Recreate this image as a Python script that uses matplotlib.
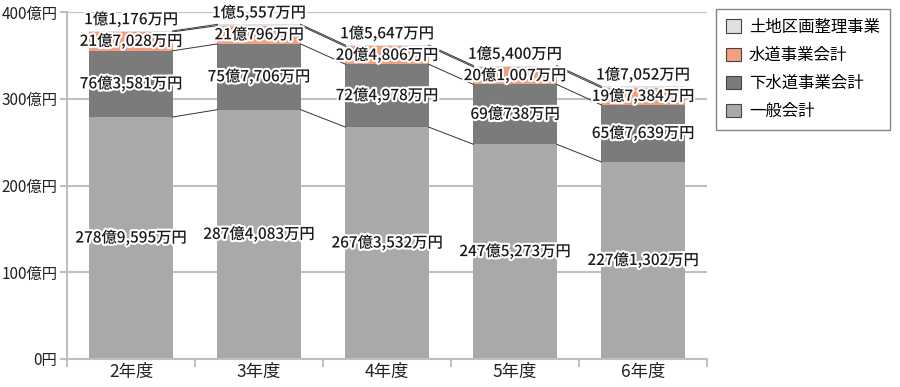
import matplotlib
matplotlib.use("Agg")
import matplotlib.pyplot as plt
import matplotlib.patheffects as pe
from matplotlib.patches import Patch
import numpy as np

plt.rcParams['font.family'] = ['Noto Sans CJK JP', 'DejaVu Sans']

years = ["2年度", "3年度", "4年度", "5年度", "6年度"]
series_names = ["一般会計", "下水道事業会計", "水道事業会計", "土地区画整理事業"]
ippan = [278.9595, 287.4083, 267.3532, 247.5273, 227.1302]
gesui = [76.3581, 75.7706, 72.4978, 69.0738, 65.7639]
suido = [21.7028, 21.0796, 20.4806, 20.1007, 19.7384]
tochi = [1.1176, 1.5557, 1.5647, 1.5400, 1.7052]
labels_ippan = ["278億9,595万円", "287億4,083万円", "267億3,532万円", "247億5,273万円", "227億1,302万円"]
labels_gesui = ["76億3,581万円", "75億7,706万円", "72億4,978万円", "69億738万円", "65億7,639万円"]
labels_suido = ["21億7,028万円", "21億796万円", "20億4,806万円", "20億1,007万円", "19億7,384万円"]
labels_tochi = ["1億1,176万円", "1億5,557万円", "1億5,647万円", "1億5,400万円", "1億7,052万円"]
yticks = [0, 100, 200, 300, 400]
ytick_labels = ["0円", "100億円", "200億円", "300億円", "400億円"]

colors = ["#a9a9a9", "#7b7b7b", "#f4a07e", "#e0e0e0"]
data = [ippan, gesui, suido, tochi]
lbls = [labels_ippan, labels_gesui, labels_suido, labels_tochi]

fig = plt.figure(figsize=(9, 3.87), dpi=100)
ax = fig.add_axes([67/900, 28/387, 640/900, 347/387])

x = np.arange(len(years))
w = 0.65
bottom = np.zeros(len(years))
tops = []
for vals, c in zip(data, colors):
    v = np.array(vals)
    ax.bar(x, v, w, bottom=bottom, color=c, edgecolor='none', zorder=2)
    bottom = bottom + v
    tops.append(bottom.copy())

# connector lines
for t in tops:
    for i in range(len(years) - 1):
        ax.plot([x[i] + w/2, x[i+1] - w/2], [t[i], t[i+1]], color="#333333", lw=0.7, zorder=3)

stroke = [pe.withStroke(linewidth=3, foreground='white')]
fs = 11
prev = np.zeros(len(years))
for k, (vals, lab) in enumerate(zip(data, lbls)):
    v = np.array(vals)
    for i in range(len(years)):
        if k == 3:
            yy = prev[i] + v[i] + 13
        else:
            yy = prev[i] + v[i] / 2
        ax.text(x[i], yy, lab[i], ha='center', va='center', fontsize=fs, fontweight='medium',
                color='#1a1a1a', path_effects=stroke, zorder=5)
    prev = prev + v

ax.set_xlim(-0.5, len(years) - 0.5)
ax.set_ylim(0, 400)
ax.set_yticks(yticks)
ax.set_yticklabels(ytick_labels, fontsize=11, color='#222222')
ax.set_xticks(x)
ax.set_xticklabels(years, fontsize=12.5, color='#222222')
ax.tick_params(axis='x', length=0, pad=3)
ax.set_xticks(np.arange(-0.5, len(years), 1.0), minor=True)
ax.tick_params(axis='x', which='minor', length=6, color='#bfbfbf', width=1.5)
ax.tick_params(axis='y', length=5, color='#bfbfbf', width=1.5, pad=2)
ax.yaxis.grid(True, color='#c0c0c0', lw=1.5, zorder=0)
ax.set_axisbelow(True)
for s in ['top', 'right']:
    ax.spines[s].set_visible(False)
for s in ['left', 'bottom']:
    ax.spines[s].set_color('#bfbfbf')
    ax.spines[s].set_linewidth(1.5)
ax.spines['bottom'].set_zorder(4)

handles = [Patch(facecolor=colors[i], edgecolor='#444444', lw=0.8, label=series_names[i]) for i in range(3, -1, -1)]
leg = fig.legend(handles=handles, loc='upper left', bbox_to_anchor=(716/900, 1 - 9/387),
                 fontsize=11.8, frameon=True, fancybox=False, edgecolor='#666666',
                 handlelength=0.9, handleheight=0.9, handletextpad=0.5, labelspacing=0.68,
                 borderpad=0.6, borderaxespad=0)
leg.get_frame().set_linewidth(1.0)
fig.savefig("out.png", dpi=100)
